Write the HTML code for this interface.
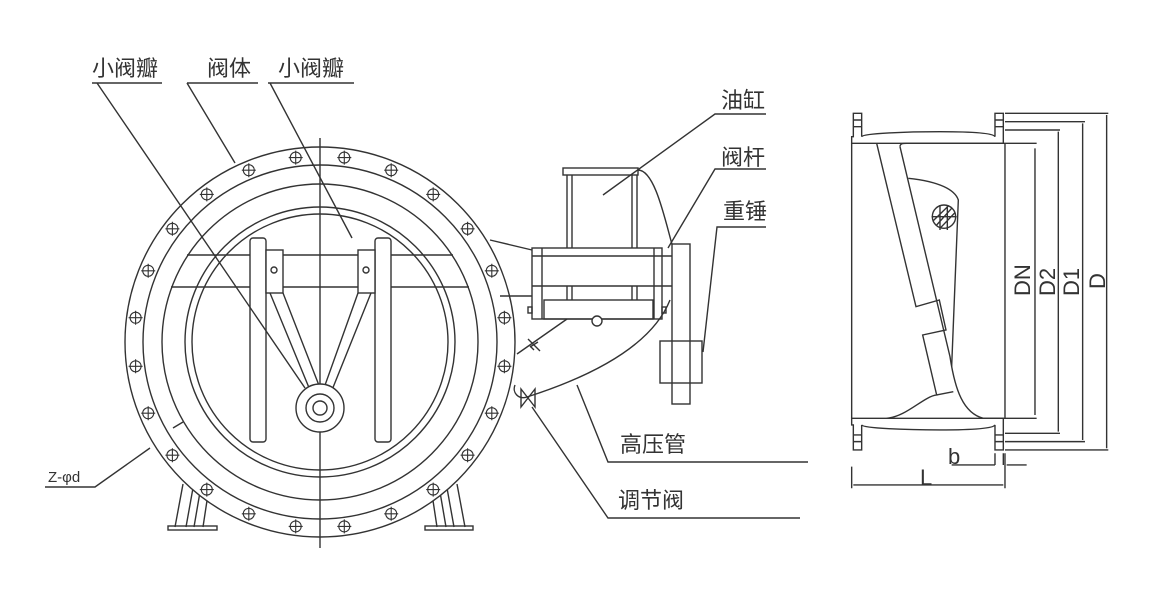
<!DOCTYPE html>
<html><head><meta charset="utf-8"><style>
html,body{margin:0;padding:0;background:#fff;}
svg{display:block;}
text{font-family:"Liberation Sans","Noto Sans CJK SC",sans-serif;fill:#333;}
</style></head><body>
<svg width="1158" height="600" viewBox="0 0 1158 600" xmlns="http://www.w3.org/2000/svg">
<defs>
<g id="b" fill="none" stroke="#333" stroke-width="1.1"><circle cx="0" cy="0" r="5.5" fill="#fff"/><path d="M-7 0h14M0 -7v14"/></g>
</defs>
<g fill="none" stroke="#333" stroke-width="1.4">
<!-- feet -->
<path d="M183 484 L175 527 M193 488 L186 527 M200 492 L194 527 M208 494 L203 527"/>
<rect x="168" y="526" width="49" height="4"/>
<path d="M457 484 L465 527 M447 488 L454 527 M440 492 L446 527 M432 494 L437 527"/>
<rect x="425" y="526" width="48" height="4"/>
<!-- main circles -->
<circle cx="320" cy="342" r="195" fill="#fff"/>
<circle cx="320" cy="342" r="177"/>
<circle cx="320" cy="342" r="158"/>
<circle cx="320" cy="342" r="135"/>
<circle cx="320" cy="342" r="128"/>
<line x1="320" y1="138" x2="320" y2="548"/>
<line x1="187" y1="255" x2="453" y2="255"/>
<line x1="171" y1="287" x2="469" y2="287"/>
<rect x="250" y="238" width="16" height="204" rx="3" fill="#fff"/>
<rect x="375" y="238" width="16" height="204" rx="3" fill="#fff"/>
<rect x="266" y="250" width="17" height="43" fill="#fff"/>
<rect x="358" y="250" width="17" height="43" fill="#fff"/>
<circle cx="274" cy="270" r="3"/>
<circle cx="366" cy="270" r="3"/>
<path d="M270 293 L312 395 M283 293 L320 388 M358 293 L324 388 M371 293 L330 395"/>
<circle cx="320" cy="408" r="24" fill="#fff"/>
<circle cx="320" cy="408" r="14"/>
<circle cx="320" cy="408" r="7"/>
<!-- actuator -->
<path d="M490 240 L532 250"/>
<path d="M500 296 L532 296"/>
<rect x="563" y="168" width="75" height="7"/>
<path d="M567 175 V248 M572 175 V248 M632 175 V248 M637 175 V248"/>
<path d="M567 286 V300 M572 286 V300 M632 286 V300 M637 286 V300"/>
<rect x="532" y="248" width="130" height="71"/>
<path d="M542 248 V319 M654 248 V319 M532 256 H672 M532 286 H672"/>
<rect x="544" y="300" width="109" height="19"/>
<rect x="528" y="307" width="4" height="6"/>
<rect x="662" y="307" width="4" height="6"/>
<circle cx="597" cy="321" r="5" fill="#fff"/>
<path d="M638 170 C655 170 665 220 673 248"/>
<path d="M670 300 C650 350 580 380 527 397 C518 400 512 392 515 385"/>
<rect x="672" y="244" width="18" height="160" fill="#fff"/>
<rect x="660" y="341" width="42" height="42"/>
<path d="M567 319 L517 354"/>
<path d="M528 339 L540 351 M530 347 L538 342 M530 346 L534 350"/>
<path d="M521 389 L535 407 L535 389 L521 407 Z"/>
<!-- leaders -->
<path d="M92 83 H162 M97 83 L305 388"/>
<path d="M187 83 H258 M187 83 L235 163"/>
<path d="M268 83 H354 M270 83 L352 238"/>
<path d="M766 114 H715 L603 195"/>
<path d="M766 169 H715 L668 248"/>
<path d="M766 227 H717 L703 352"/>
<path d="M808 462 H608 L577 385"/>
<path d="M800 518 H608 L532 407"/>
<path d="M45 487 H95 L150 448"/>
<path d="M173 428 L183 422"/>
</g>
<use href="#b" x="344.3" y="157.6"/><use href="#b" x="391.2" y="170.2"/><use href="#b" x="433.2" y="194.4"/>
<use href="#b" x="467.6" y="228.8"/><use href="#b" x="491.8" y="270.8"/><use href="#b" x="504.4" y="317.7"/>
<use href="#b" x="504.4" y="366.3"/><use href="#b" x="491.8" y="413.2"/><use href="#b" x="467.6" y="455.2"/>
<use href="#b" x="433.2" y="489.6"/><use href="#b" x="391.2" y="513.8"/><use href="#b" x="344.3" y="526.4"/>
<use href="#b" x="295.7" y="157.6"/><use href="#b" x="248.8" y="170.2"/><use href="#b" x="206.8" y="194.4"/>
<use href="#b" x="172.4" y="228.8"/><use href="#b" x="148.2" y="270.8"/><use href="#b" x="135.6" y="317.7"/>
<use href="#b" x="135.6" y="366.3"/><use href="#b" x="148.2" y="413.2"/><use href="#b" x="172.4" y="455.2"/>
<use href="#b" x="206.8" y="489.6"/><use href="#b" x="248.8" y="513.8"/><use href="#b" x="295.7" y="526.4"/>
<!-- side view -->
<g transform="translate(840,100) scale(0.3333)" fill="none" stroke="#333" stroke-width="4.2">
<path d="M35 130 V955 M495 130 V955"/>
<path d="M40 40 H65 V110 C70 100 200 95 300 95 C400 95 460 100 465 110 V40 H490 V130 H35 V110 H40 Z"/>
<path d="M40 1050 H65 V975 C70 985 200 990 300 990 C400 990 460 985 465 975 V1050 H490 V955 H35 V975 H40 Z"/>
<path d="M40 60 H65 M40 80 H65 M465 60 H490 M465 80 H490 M40 1005 H65 M40 1025 H65 M465 1005 H490 M465 1025 H490"/>
<path d="M110 130 L228 620 L298 600 L318 690 L248 705 L290 885 C250 890 200 950 140 955"/>
<path d="M180 140 C180 130 190 130 200 130 L590 130"/>
<path d="M180 140 L330 770 C345 870 370 940 430 955 L590 955"/>
<path d="M205 235 C300 245 345 270 355 300 L335 800"/>
<path d="M290 885 L340 875"/>
<circle cx="312" cy="350" r="35"/>
<path d="M290 375 L335 325 M280 362 L325 318 M300 385 L345 338 M300 315 V390 M322 315 V390 M275 350 H350"/>
<path d="M495 40 H805 M495 65 H735 M495 90 H660 M495 1050 H805 M495 1025 H735 M495 1000 H660"/>
<path d="M585 145 V945 M655 95 V995 M728 70 V1020 M800 45 V1045"/>
<path d="M465 1060 V1095 M490 1060 V1095 M335 1095 H465 M500 1095 H560"/>
<path d="M35 1100 V1165 M495 1060 V1165 M40 1155 H490"/>
</g>
<g font-size="22">
<text x="92" y="76">小阀瓣</text>
<text x="207" y="76">阀体</text>
<text x="278" y="76">小阀瓣</text>
<text x="721" y="108">油缸</text>
<text x="721" y="165">阀杆</text>
<text x="723" y="219">重锤</text>
<text x="620" y="452">高压管</text>
<text x="618" y="508">调节阀</text>
<text x="948" y="464">b</text>
<text x="920" y="485">L</text>
</g>
<text x="48" y="482" font-size="15">Z-φd</text>
<g font-size="22">
<text transform="translate(1030,296) rotate(-90)">DN</text>
<text transform="translate(1055,296) rotate(-90)">D2</text>
<text transform="translate(1079,296) rotate(-90)">D1</text>
<text transform="translate(1105,289) rotate(-90)">D</text>
</g>
</svg>
</body></html>
